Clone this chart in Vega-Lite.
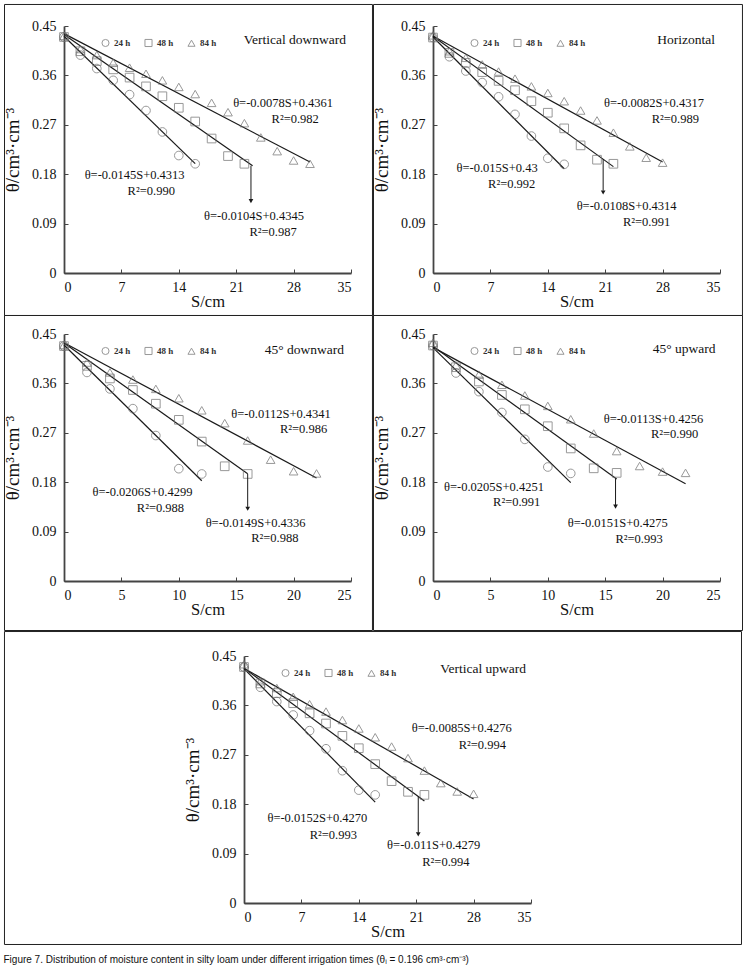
{
  "$schema": "https://vega.github.io/schema/vega-lite/v6.json",
  "background": "white",
  "padding": {"left": 3, "top": 3, "right": 3, "bottom": 3},
  "title": {"text": "Figure 7. Distribution of moisture content in silty loam under different irrigation times (θᵢ = 0.196 cm³·cm⁻³)", "orient": "bottom", "anchor": "start", "font": "Liberation Sans", "fontSize": 10, "fontWeight": "normal", "color": "#111", "offset": 10},
  "config": {
    "view": {"stroke": null},
    "axis": {"grid": false, "labelFont": "Liberation Serif", "labelFontSize": 14, "labelColor": "#111", "titleFont": "Liberation Serif", "titleFontWeight": "normal", "titleColor": "#111", "domainColor": "#444", "domainWidth": 1.8, "tickColor": "#444", "tickWidth": 1, "tickSize": -4},
    "axisX": {"labelPadding": 11, "titleFontSize": 16.5, "titlePadding": -1},
    "axisY": {"labelPadding": 12, "titleFontSize": 19, "titlePadding": 9},
    "legend": {"orient": "none", "legendX": 37, "legendY": 12, "direction": "horizontal", "labelFont": "Liberation Serif", "labelFontSize": 9, "labelFontWeight": "bold", "labelColor": "#333", "symbolSize": 50, "symbolStrokeWidth": 1, "columnPadding": 11, "labelOffset": 4},
    "text": {"font": "Liberation Serif", "color": "#111"}
  },
  "datasets": {
    "p1_pts": [
      {"series": "24 h", "S": 0, "theta": 0.430}, {"series": "24 h", "S": 2, "theta": 0.397}, {"series": "24 h", "S": 4, "theta": 0.3725}, {"series": "24 h", "S": 6, "theta": 0.351}, {"series": "24 h", "S": 8, "theta": 0.325}, {"series": "24 h", "S": 10, "theta": 0.296}, {"series": "24 h", "S": 12, "theta": 0.257}, {"series": "24 h", "S": 14, "theta": 0.214}, {"series": "24 h", "S": 16, "theta": 0.199},
      {"series": "48 h", "S": 0, "theta": 0.430}, {"series": "48 h", "S": 2, "theta": 0.404}, {"series": "48 h", "S": 4, "theta": 0.386}, {"series": "48 h", "S": 6, "theta": 0.371}, {"series": "48 h", "S": 8, "theta": 0.356}, {"series": "48 h", "S": 10, "theta": 0.340}, {"series": "48 h", "S": 12, "theta": 0.322}, {"series": "48 h", "S": 14, "theta": 0.301}, {"series": "48 h", "S": 16, "theta": 0.276}, {"series": "48 h", "S": 18, "theta": 0.245}, {"series": "48 h", "S": 20, "theta": 0.213}, {"series": "48 h", "S": 22, "theta": 0.199},
      {"series": "84 h", "S": 0, "theta": 0.432}, {"series": "84 h", "S": 2, "theta": 0.408}, {"series": "84 h", "S": 4, "theta": 0.397}, {"series": "84 h", "S": 6, "theta": 0.383}, {"series": "84 h", "S": 8, "theta": 0.374}, {"series": "84 h", "S": 10, "theta": 0.363}, {"series": "84 h", "S": 12, "theta": 0.351}, {"series": "84 h", "S": 14, "theta": 0.339}, {"series": "84 h", "S": 16, "theta": 0.326}, {"series": "84 h", "S": 18, "theta": 0.310}, {"series": "84 h", "S": 20, "theta": 0.293}, {"series": "84 h", "S": 22, "theta": 0.273}, {"series": "84 h", "S": 24, "theta": 0.247}, {"series": "84 h", "S": 26, "theta": 0.222}, {"series": "84 h", "S": 28, "theta": 0.205}, {"series": "84 h", "S": 30, "theta": 0.199}
    ],
    "p1_fit": [
      {"series": "24 h", "S": 0, "theta": 0.4313}, {"series": "24 h", "S": 16, "theta": 0.1993},
      {"series": "48 h", "S": 0, "theta": 0.4345}, {"series": "48 h", "S": 23, "theta": 0.1953},
      {"series": "84 h", "S": 0, "theta": 0.4361}, {"series": "84 h", "S": 30, "theta": 0.2021}
    ],
    "p1_arrow": [{"S": 22.8, "theta": 0.1953, "theta2": 0.134, "head": 0.131}],
    "p1_txt": [
      {"label": "θ=-0.0078S+0.4361", "S": 26.72, "theta": 0.3095}, {"label": "R²=0.982", "S": 28.2, "theta": 0.2804},
      {"label": "θ=-0.0145S+0.4313", "S": 8.61, "theta": 0.1787}, {"label": "R²=0.990", "S": 10.64, "theta": 0.149},
      {"label": "θ=-0.0104S+0.4345", "S": 23.16, "theta": 0.103}, {"label": "R²=0.987", "S": 25.5, "theta": 0.0745}
    ],
    "p2_pts": [
      {"series": "24 h", "S": 0, "theta": 0.429}, {"series": "24 h", "S": 2, "theta": 0.394}, {"series": "24 h", "S": 4, "theta": 0.368}, {"series": "24 h", "S": 6, "theta": 0.347}, {"series": "24 h", "S": 8, "theta": 0.321}, {"series": "24 h", "S": 10, "theta": 0.289}, {"series": "24 h", "S": 12, "theta": 0.2495}, {"series": "24 h", "S": 14, "theta": 0.209}, {"series": "24 h", "S": 16, "theta": 0.198},
      {"series": "48 h", "S": 0, "theta": 0.429}, {"series": "48 h", "S": 2, "theta": 0.401}, {"series": "48 h", "S": 4, "theta": 0.383}, {"series": "48 h", "S": 6, "theta": 0.366}, {"series": "48 h", "S": 8, "theta": 0.350}, {"series": "48 h", "S": 10, "theta": 0.333}, {"series": "48 h", "S": 12, "theta": 0.313}, {"series": "48 h", "S": 14, "theta": 0.292}, {"series": "48 h", "S": 16, "theta": 0.2635}, {"series": "48 h", "S": 18, "theta": 0.2325}, {"series": "48 h", "S": 20, "theta": 0.2064}, {"series": "48 h", "S": 22, "theta": 0.199},
      {"series": "84 h", "S": 0, "theta": 0.433}, {"series": "84 h", "S": 2, "theta": 0.404}, {"series": "84 h", "S": 4, "theta": 0.392}, {"series": "84 h", "S": 6, "theta": 0.380}, {"series": "84 h", "S": 8, "theta": 0.367}, {"series": "84 h", "S": 10, "theta": 0.354}, {"series": "84 h", "S": 12, "theta": 0.340}, {"series": "84 h", "S": 14, "theta": 0.328}, {"series": "84 h", "S": 16, "theta": 0.313}, {"series": "84 h", "S": 18, "theta": 0.296}, {"series": "84 h", "S": 20, "theta": 0.278}, {"series": "84 h", "S": 22, "theta": 0.2556}, {"series": "84 h", "S": 24, "theta": 0.2307}, {"series": "84 h", "S": 26, "theta": 0.210}, {"series": "84 h", "S": 28, "theta": 0.201}
    ],
    "p2_fit": [
      {"series": "24 h", "S": 0, "theta": 0.43}, {"series": "24 h", "S": 16, "theta": 0.19},
      {"series": "48 h", "S": 0, "theta": 0.4314}, {"series": "48 h", "S": 22, "theta": 0.1938},
      {"series": "84 h", "S": 0, "theta": 0.4317}, {"series": "84 h", "S": 28, "theta": 0.2021}
    ],
    "p2_arrow": [{"S": 20.75, "theta": 0.2073, "theta2": 0.15, "head": 0.1465}],
    "p2_txt": [
      {"label": "θ=-0.0082S+0.4317", "S": 26.95, "theta": 0.309}, {"label": "R²=0.989", "S": 29.55, "theta": 0.280},
      {"label": "θ=-0.015S+0.43", "S": 7.82, "theta": 0.1906}, {"label": "R²=0.992", "S": 9.6, "theta": 0.1615},
      {"label": "θ=-0.0108S+0.4314", "S": 23.61, "theta": 0.122}, {"label": "R²=0.991", "S": 26.04, "theta": 0.0935}
    ],
    "p3_pts": [
      {"series": "24 h", "S": 0, "theta": 0.428}, {"series": "24 h", "S": 2, "theta": 0.380}, {"series": "24 h", "S": 4, "theta": 0.350}, {"series": "24 h", "S": 6, "theta": 0.314}, {"series": "24 h", "S": 8, "theta": 0.265}, {"series": "24 h", "S": 10, "theta": 0.2046}, {"series": "24 h", "S": 12, "theta": 0.195},
      {"series": "48 h", "S": 0, "theta": 0.428}, {"series": "48 h", "S": 2, "theta": 0.392}, {"series": "48 h", "S": 4, "theta": 0.369}, {"series": "48 h", "S": 6, "theta": 0.348}, {"series": "48 h", "S": 8, "theta": 0.323}, {"series": "48 h", "S": 10, "theta": 0.2936}, {"series": "48 h", "S": 12, "theta": 0.254}, {"series": "48 h", "S": 14, "theta": 0.209}, {"series": "48 h", "S": 16, "theta": 0.195},
      {"series": "84 h", "S": 0, "theta": 0.430}, {"series": "84 h", "S": 2, "theta": 0.398}, {"series": "84 h", "S": 4, "theta": 0.380}, {"series": "84 h", "S": 6, "theta": 0.367}, {"series": "84 h", "S": 8, "theta": 0.350}, {"series": "84 h", "S": 10, "theta": 0.333}, {"series": "84 h", "S": 12, "theta": 0.311}, {"series": "84 h", "S": 14, "theta": 0.2876}, {"series": "84 h", "S": 16, "theta": 0.256}, {"series": "84 h", "S": 18, "theta": 0.221}, {"series": "84 h", "S": 20, "theta": 0.200}, {"series": "84 h", "S": 22, "theta": 0.196}
    ],
    "p3_fit": [
      {"series": "24 h", "S": 0, "theta": 0.4299}, {"series": "24 h", "S": 12, "theta": 0.1827},
      {"series": "48 h", "S": 0, "theta": 0.4336}, {"series": "48 h", "S": 16, "theta": 0.1952},
      {"series": "84 h", "S": 0, "theta": 0.4341}, {"series": "84 h", "S": 22, "theta": 0.1877}
    ],
    "p3_arrow": [{"S": 16, "theta": 0.1952, "theta2": 0.135, "head": 0.1315}],
    "p3_txt": [
      {"label": "θ=-0.0112S+0.4341", "S": 18.91, "theta": 0.304}, {"label": "R²=0.986", "S": 20.87, "theta": 0.2768},
      {"label": "θ=-0.0206S+0.4299", "S": 6.83, "theta": 0.1625}, {"label": "R²=0.988", "S": 8.4, "theta": 0.1336},
      {"label": "θ=-0.0149S+0.4336", "S": 16.69, "theta": 0.1053}, {"label": "R²=0.988", "S": 18.36, "theta": 0.078}
    ],
    "p4_pts": [
      {"series": "24 h", "S": 0, "theta": 0.429}, {"series": "24 h", "S": 2, "theta": 0.379}, {"series": "24 h", "S": 4, "theta": 0.345}, {"series": "24 h", "S": 6, "theta": 0.307}, {"series": "24 h", "S": 8, "theta": 0.258}, {"series": "24 h", "S": 10, "theta": 0.2077}, {"series": "24 h", "S": 12, "theta": 0.196},
      {"series": "48 h", "S": 0, "theta": 0.429}, {"series": "48 h", "S": 2, "theta": 0.3895}, {"series": "48 h", "S": 4, "theta": 0.3635}, {"series": "48 h", "S": 6, "theta": 0.339}, {"series": "48 h", "S": 8, "theta": 0.3128}, {"series": "48 h", "S": 10, "theta": 0.282}, {"series": "48 h", "S": 12, "theta": 0.2415}, {"series": "48 h", "S": 14, "theta": 0.2053}, {"series": "48 h", "S": 16, "theta": 0.197},
      {"series": "84 h", "S": 0, "theta": 0.434}, {"series": "84 h", "S": 2, "theta": 0.393}, {"series": "84 h", "S": 4, "theta": 0.376}, {"series": "84 h", "S": 6, "theta": 0.3575}, {"series": "84 h", "S": 8, "theta": 0.338}, {"series": "84 h", "S": 10, "theta": 0.319}, {"series": "84 h", "S": 12, "theta": 0.2947}, {"series": "84 h", "S": 14, "theta": 0.2687}, {"series": "84 h", "S": 16, "theta": 0.2367}, {"series": "84 h", "S": 18, "theta": 0.2095}, {"series": "84 h", "S": 20, "theta": 0.1993}, {"series": "84 h", "S": 22, "theta": 0.197}
    ],
    "p4_fit": [
      {"series": "24 h", "S": 0, "theta": 0.4251}, {"series": "24 h", "S": 12, "theta": 0.1791},
      {"series": "48 h", "S": 0, "theta": 0.4275}, {"series": "48 h", "S": 16, "theta": 0.1859},
      {"series": "84 h", "S": 0, "theta": 0.4256}, {"series": "84 h", "S": 22, "theta": 0.177}
    ],
    "p4_arrow": [{"S": 15.9, "theta": 0.187, "theta2": 0.138, "head": 0.1355}],
    "p4_txt": [
      {"label": "θ=-0.0113S+0.4256", "S": 19.2, "theta": 0.2947}, {"label": "R²=0.990", "S": 21.04, "theta": 0.2675},
      {"label": "θ=-0.0205S+0.4251", "S": 5.31, "theta": 0.1715}, {"label": "R²=0.991", "S": 7.29, "theta": 0.1437},
      {"label": "θ=-0.0151S+0.4275", "S": 16.09, "theta": 0.1057}, {"label": "R²=0.993", "S": 17.95, "theta": 0.0773}
    ],
    "p5_pts": [
      {"series": "24 h", "S": 0, "theta": 0.430}, {"series": "24 h", "S": 2, "theta": 0.393}, {"series": "24 h", "S": 4, "theta": 0.367}, {"series": "24 h", "S": 6, "theta": 0.3425}, {"series": "24 h", "S": 8, "theta": 0.314}, {"series": "24 h", "S": 10, "theta": 0.281}, {"series": "24 h", "S": 12, "theta": 0.241}, {"series": "24 h", "S": 14, "theta": 0.2056}, {"series": "24 h", "S": 16, "theta": 0.197},
      {"series": "48 h", "S": 0, "theta": 0.430}, {"series": "48 h", "S": 2, "theta": 0.400}, {"series": "48 h", "S": 4, "theta": 0.3825}, {"series": "48 h", "S": 6, "theta": 0.364}, {"series": "48 h", "S": 8, "theta": 0.3456}, {"series": "48 h", "S": 10, "theta": 0.327}, {"series": "48 h", "S": 12, "theta": 0.3045}, {"series": "48 h", "S": 14, "theta": 0.282}, {"series": "48 h", "S": 16, "theta": 0.253}, {"series": "48 h", "S": 18, "theta": 0.222}, {"series": "48 h", "S": 20, "theta": 0.2026}, {"series": "48 h", "S": 22, "theta": 0.197},
      {"series": "84 h", "S": 0, "theta": 0.435}, {"series": "84 h", "S": 2, "theta": 0.404}, {"series": "84 h", "S": 4, "theta": 0.3917}, {"series": "84 h", "S": 6, "theta": 0.3757}, {"series": "84 h", "S": 8, "theta": 0.3622}, {"series": "84 h", "S": 10, "theta": 0.3487}, {"series": "84 h", "S": 12, "theta": 0.3333}, {"series": "84 h", "S": 14, "theta": 0.318}, {"series": "84 h", "S": 16, "theta": 0.302}, {"series": "84 h", "S": 18, "theta": 0.285}, {"series": "84 h", "S": 20, "theta": 0.264}, {"series": "84 h", "S": 22, "theta": 0.2412}, {"series": "84 h", "S": 24, "theta": 0.2185}, {"series": "84 h", "S": 26, "theta": 0.2032}, {"series": "84 h", "S": 28, "theta": 0.1989}
    ],
    "p5_fit": [
      {"series": "24 h", "S": 0, "theta": 0.427}, {"series": "24 h", "S": 16, "theta": 0.1838},
      {"series": "48 h", "S": 0, "theta": 0.4279}, {"series": "48 h", "S": 22, "theta": 0.1859},
      {"series": "84 h", "S": 0, "theta": 0.4276}, {"series": "84 h", "S": 28, "theta": 0.1896}
    ],
    "p5_arrow": [{"S": 21.25, "theta": 0.1941, "theta2": 0.128, "head": 0.125}],
    "p5_txt": [
      {"label": "θ=-0.0085S+0.4276", "S": 26.56, "theta": 0.318}, {"label": "R²=0.994", "S": 29.06, "theta": 0.2885},
      {"label": "θ=-0.0152S+0.4270", "S": 8.95, "theta": 0.1553}, {"label": "R²=0.993", "S": 10.89, "theta": 0.1246},
      {"label": "θ=-0.011S+0.4279", "S": 23.14, "theta": 0.1062}, {"label": "R²=0.994", "S": 24.62, "theta": 0.0755}
    ]
  },
  "columns": 1,
  "spacing": -1,
  "resolve": {"scale": {"shape": "independent"}, "legend": {"shape": "independent"}},
  "concat": [
    {
      "spacing": -1,
      "resolve": {"scale": {"shape": "independent"}, "legend": {"shape": "independent"}},
      "hconcat": [
        {
          "width": 287, "height": 247,
          "layer": [
            {"data": {"values": [{}]}, "mark": {"type": "rect", "filled": false, "stroke": "#222", "strokeWidth": 1, "clip": false}, "encoding": {"x": {"datum": -7.256, "type": "quantitative", "scale": {"domain": [0, 35]}}, "x2": {"datum": 37.62}, "y": {"datum": 0.4892, "type": "quantitative", "scale": {"domain": [0, 0.45]}}, "y2": {"datum": -0.0774}}},
            {"data": {"values": [{}]}, "mark": {"type": "text", "text": "Vertical downward", "fontSize": 13.5, "align": "right", "baseline": "middle"}, "encoding": {"x": {"datum": 34.4, "type": "quantitative", "scale": {"domain": [0, 35]}}, "y": {"datum": 0.424, "type": "quantitative", "scale": {"domain": [0, 0.45]}}}},
            {
              "encoding": {
                "x": {"field": "S", "type": "quantitative", "scale": {"domain": [0, 35]}, "axis": {"values": [0, 7, 14, 21, 28, 35], "title": "S/cm"}},
                "y": {"field": "theta", "type": "quantitative", "scale": {"domain": [0, 0.45]}, "axis": {"values": [0, 0.09, 0.18, 0.27, 0.36, 0.45], "format": ".2~f", "title": "θ/cm³·cm⁻³"}}
              },
              "layer": [
                {"data": {"name": "p1_fit"}, "mark": {"type": "line", "color": "#1a1a1a", "strokeWidth": 1.2}, "encoding": {"detail": {"field": "series"}}},
                {"data": {"name": "p1_pts"}, "mark": {"type": "point", "filled": false, "size": 75, "color": "#6e6e6e", "strokeWidth": 1}, "encoding": {"shape": {"field": "series", "type": "nominal", "scale": {"domain": ["24 h", "48 h", "84 h"], "range": ["circle", "square", "triangle-up"]}, "legend": {"title": null}}}},
                {"data": {"name": "p1_arrow"}, "mark": {"type": "rule", "color": "#1a1a1a", "strokeWidth": 1}, "encoding": {"y2": {"field": "theta2"}}},
                {"data": {"name": "p1_arrow"}, "mark": {"type": "point", "shape": "triangle-down", "filled": true, "size": 22, "color": "#1a1a1a", "opacity": 1}, "encoding": {"y": {"field": "head"}}},
                {"data": {"name": "p1_txt"}, "mark": {"type": "text", "fontSize": 12.5, "align": "center", "baseline": "middle"}, "encoding": {"text": {"field": "label"}}}
              ]
            }
          ]
        },
        {
          "width": 287, "height": 247,
          "layer": [
            {"data": {"values": [{}]}, "mark": {"type": "rect", "filled": false, "stroke": "#222", "strokeWidth": 1, "clip": false}, "encoding": {"x": {"datum": -7.256, "type": "quantitative", "scale": {"domain": [0, 35]}}, "x2": {"datum": 37.74}, "y": {"datum": 0.4892, "type": "quantitative", "scale": {"domain": [0, 0.45]}}, "y2": {"datum": -0.0774}}},
            {"data": {"values": [{}]}, "mark": {"type": "text", "text": "Horizontal", "fontSize": 13.5, "align": "right", "baseline": "middle"}, "encoding": {"x": {"datum": 34.4, "type": "quantitative", "scale": {"domain": [0, 35]}}, "y": {"datum": 0.424, "type": "quantitative", "scale": {"domain": [0, 0.45]}}}},
            {
              "encoding": {
                "x": {"field": "S", "type": "quantitative", "scale": {"domain": [0, 35]}, "axis": {"values": [0, 7, 14, 21, 28, 35], "title": "S/cm"}},
                "y": {"field": "theta", "type": "quantitative", "scale": {"domain": [0, 0.45]}, "axis": {"values": [0, 0.09, 0.18, 0.27, 0.36, 0.45], "format": ".2~f", "title": "θ/cm³·cm⁻³"}}
              },
              "layer": [
                {"data": {"name": "p2_fit"}, "mark": {"type": "line", "color": "#1a1a1a", "strokeWidth": 1.2}, "encoding": {"detail": {"field": "series"}}},
                {"data": {"name": "p2_pts"}, "mark": {"type": "point", "filled": false, "size": 75, "color": "#6e6e6e", "strokeWidth": 1}, "encoding": {"shape": {"field": "series", "type": "nominal", "scale": {"domain": ["24 h", "48 h", "84 h"], "range": ["circle", "square", "triangle-up"]}, "legend": {"title": null}}}},
                {"data": {"name": "p2_arrow"}, "mark": {"type": "rule", "color": "#1a1a1a", "strokeWidth": 1}, "encoding": {"y2": {"field": "theta2"}}},
                {"data": {"name": "p2_arrow"}, "mark": {"type": "point", "shape": "triangle-down", "filled": true, "size": 22, "color": "#1a1a1a", "opacity": 1}, "encoding": {"y": {"field": "head"}}},
                {"data": {"name": "p2_txt"}, "mark": {"type": "text", "fontSize": 12.5, "align": "center", "baseline": "middle"}, "encoding": {"text": {"field": "label"}}}
              ]
            }
          ]
        }
      ]
    },
    {
      "spacing": -1,
      "resolve": {"scale": {"shape": "independent"}, "legend": {"shape": "independent"}},
      "hconcat": [
        {
          "width": 287, "height": 247,
          "layer": [
            {"data": {"values": [{}]}, "mark": {"type": "rect", "filled": false, "stroke": "#222", "strokeWidth": 1, "clip": false}, "encoding": {"x": {"datum": -5.183, "type": "quantitative", "scale": {"domain": [0, 25]}}, "x2": {"datum": 26.87}, "y": {"datum": 0.4837, "type": "quantitative", "scale": {"domain": [0, 0.45]}}, "y2": {"datum": -0.0902}}},
            {"data": {"values": [{}]}, "mark": {"type": "text", "text": "45° downward", "fontSize": 13.5, "align": "right", "baseline": "middle"}, "encoding": {"x": {"datum": 24.4, "type": "quantitative", "scale": {"domain": [0, 25]}}, "y": {"datum": 0.421, "type": "quantitative", "scale": {"domain": [0, 0.45]}}}},
            {
              "encoding": {
                "x": {"field": "S", "type": "quantitative", "scale": {"domain": [0, 25]}, "axis": {"values": [0, 5, 10, 15, 20, 25], "title": "S/cm"}},
                "y": {"field": "theta", "type": "quantitative", "scale": {"domain": [0, 0.45]}, "axis": {"values": [0, 0.09, 0.18, 0.27, 0.36, 0.45], "format": ".2~f", "title": "θ/cm³·cm⁻³"}}
              },
              "layer": [
                {"data": {"name": "p3_fit"}, "mark": {"type": "line", "color": "#1a1a1a", "strokeWidth": 1.2}, "encoding": {"detail": {"field": "series"}}},
                {"data": {"name": "p3_pts"}, "mark": {"type": "point", "filled": false, "size": 75, "color": "#6e6e6e", "strokeWidth": 1}, "encoding": {"shape": {"field": "series", "type": "nominal", "scale": {"domain": ["24 h", "48 h", "84 h"], "range": ["circle", "square", "triangle-up"]}, "legend": {"title": null}}}},
                {"data": {"name": "p3_arrow"}, "mark": {"type": "rule", "color": "#1a1a1a", "strokeWidth": 1}, "encoding": {"y2": {"field": "theta2"}}},
                {"data": {"name": "p3_arrow"}, "mark": {"type": "point", "shape": "triangle-down", "filled": true, "size": 22, "color": "#1a1a1a", "opacity": 1}, "encoding": {"y": {"field": "head"}}},
                {"data": {"name": "p3_txt"}, "mark": {"type": "text", "fontSize": 12.5, "align": "center", "baseline": "middle"}, "encoding": {"text": {"field": "label"}}}
              ]
            }
          ]
        },
        {
          "width": 287, "height": 247,
          "layer": [
            {"data": {"values": [{}]}, "mark": {"type": "rect", "filled": false, "stroke": "#222", "strokeWidth": 1, "clip": false}, "encoding": {"x": {"datum": -5.183, "type": "quantitative", "scale": {"domain": [0, 25]}}, "x2": {"datum": 26.96}, "y": {"datum": 0.4837, "type": "quantitative", "scale": {"domain": [0, 0.45]}}, "y2": {"datum": -0.0902}}},
            {"data": {"values": [{}]}, "mark": {"type": "text", "text": "45° upward", "fontSize": 13.5, "align": "right", "baseline": "middle"}, "encoding": {"x": {"datum": 24.6, "type": "quantitative", "scale": {"domain": [0, 25]}}, "y": {"datum": 0.4227, "type": "quantitative", "scale": {"domain": [0, 0.45]}}}},
            {
              "encoding": {
                "x": {"field": "S", "type": "quantitative", "scale": {"domain": [0, 25]}, "axis": {"values": [0, 5, 10, 15, 20, 25], "title": "S/cm"}},
                "y": {"field": "theta", "type": "quantitative", "scale": {"domain": [0, 0.45]}, "axis": {"values": [0, 0.09, 0.18, 0.27, 0.36, 0.45], "format": ".2~f", "title": "θ/cm³·cm⁻³"}}
              },
              "layer": [
                {"data": {"name": "p4_fit"}, "mark": {"type": "line", "color": "#1a1a1a", "strokeWidth": 1.2}, "encoding": {"detail": {"field": "series"}}},
                {"data": {"name": "p4_pts"}, "mark": {"type": "point", "filled": false, "size": 75, "color": "#6e6e6e", "strokeWidth": 1}, "encoding": {"shape": {"field": "series", "type": "nominal", "scale": {"domain": ["24 h", "48 h", "84 h"], "range": ["circle", "square", "triangle-up"]}, "legend": {"title": null}}}},
                {"data": {"name": "p4_arrow"}, "mark": {"type": "rule", "color": "#1a1a1a", "strokeWidth": 1}, "encoding": {"y2": {"field": "theta2"}}},
                {"data": {"name": "p4_arrow"}, "mark": {"type": "point", "shape": "triangle-down", "filled": true, "size": 22, "color": "#1a1a1a", "opacity": 1}, "encoding": {"y": {"field": "head"}}},
                {"data": {"name": "p4_txt"}, "mark": {"type": "text", "fontSize": 12.5, "align": "center", "baseline": "middle"}, "encoding": {"text": {"field": "label"}}}
              ]
            }
          ]
        }
      ]
    },
    {
      "width": 655, "height": 247,
      "layer": [
        {"data": {"values": [{}]}, "mark": {"type": "rect", "filled": false, "stroke": "#222", "strokeWidth": 1, "clip": false}, "encoding": {"x": {"datum": -29.21, "type": "quantitative", "scale": {"domain": [0, 35], "range": [180, 467]}}, "x2": {"datum": 60.67}, "y": {"datum": 0.4946, "type": "quantitative", "scale": {"domain": [0, 0.45]}}, "y2": {"datum": -0.0756}}},
        {"data": {"values": [{}]}, "mark": {"type": "text", "text": "Vertical upward", "fontSize": 13.5, "align": "right", "baseline": "middle"}, "encoding": {"x": {"datum": 34.4, "type": "quantitative", "scale": {"domain": [0, 35], "range": [180, 467]}}, "y": {"datum": 0.4266, "type": "quantitative", "scale": {"domain": [0, 0.45]}}}},
        {
          "encoding": {
            "x": {"field": "S", "type": "quantitative", "scale": {"domain": [0, 35], "range": [180, 467]}, "axis": {"values": [0, 7, 14, 21, 28, 35], "title": "S/cm"}},
            "y": {"field": "theta", "type": "quantitative", "scale": {"domain": [0, 0.45]}, "axis": {"values": [0, 0.09, 0.18, 0.27, 0.36, 0.45], "format": ".2~f", "title": "θ/cm³·cm⁻³", "offset": -180}}
          },
          "layer": [
            {"data": {"name": "p5_fit"}, "mark": {"type": "line", "color": "#1a1a1a", "strokeWidth": 1.2}, "encoding": {"detail": {"field": "series"}}},
            {"data": {"name": "p5_pts"}, "mark": {"type": "point", "filled": false, "size": 75, "color": "#6e6e6e", "strokeWidth": 1}, "encoding": {"shape": {"field": "series", "type": "nominal", "scale": {"domain": ["24 h", "48 h", "84 h"], "range": ["circle", "square", "triangle-up"]}, "legend": {"title": null, "legendX": 217}}}},
            {"data": {"name": "p5_arrow"}, "mark": {"type": "rule", "color": "#1a1a1a", "strokeWidth": 1}, "encoding": {"y2": {"field": "theta2"}}},
            {"data": {"name": "p5_arrow"}, "mark": {"type": "point", "shape": "triangle-down", "filled": true, "size": 22, "color": "#1a1a1a", "opacity": 1}, "encoding": {"y": {"field": "head"}}},
            {"data": {"name": "p5_txt"}, "mark": {"type": "text", "fontSize": 12.5, "align": "center", "baseline": "middle"}, "encoding": {"text": {"field": "label"}}}
          ]
        }
      ]
    }
  ]
}
